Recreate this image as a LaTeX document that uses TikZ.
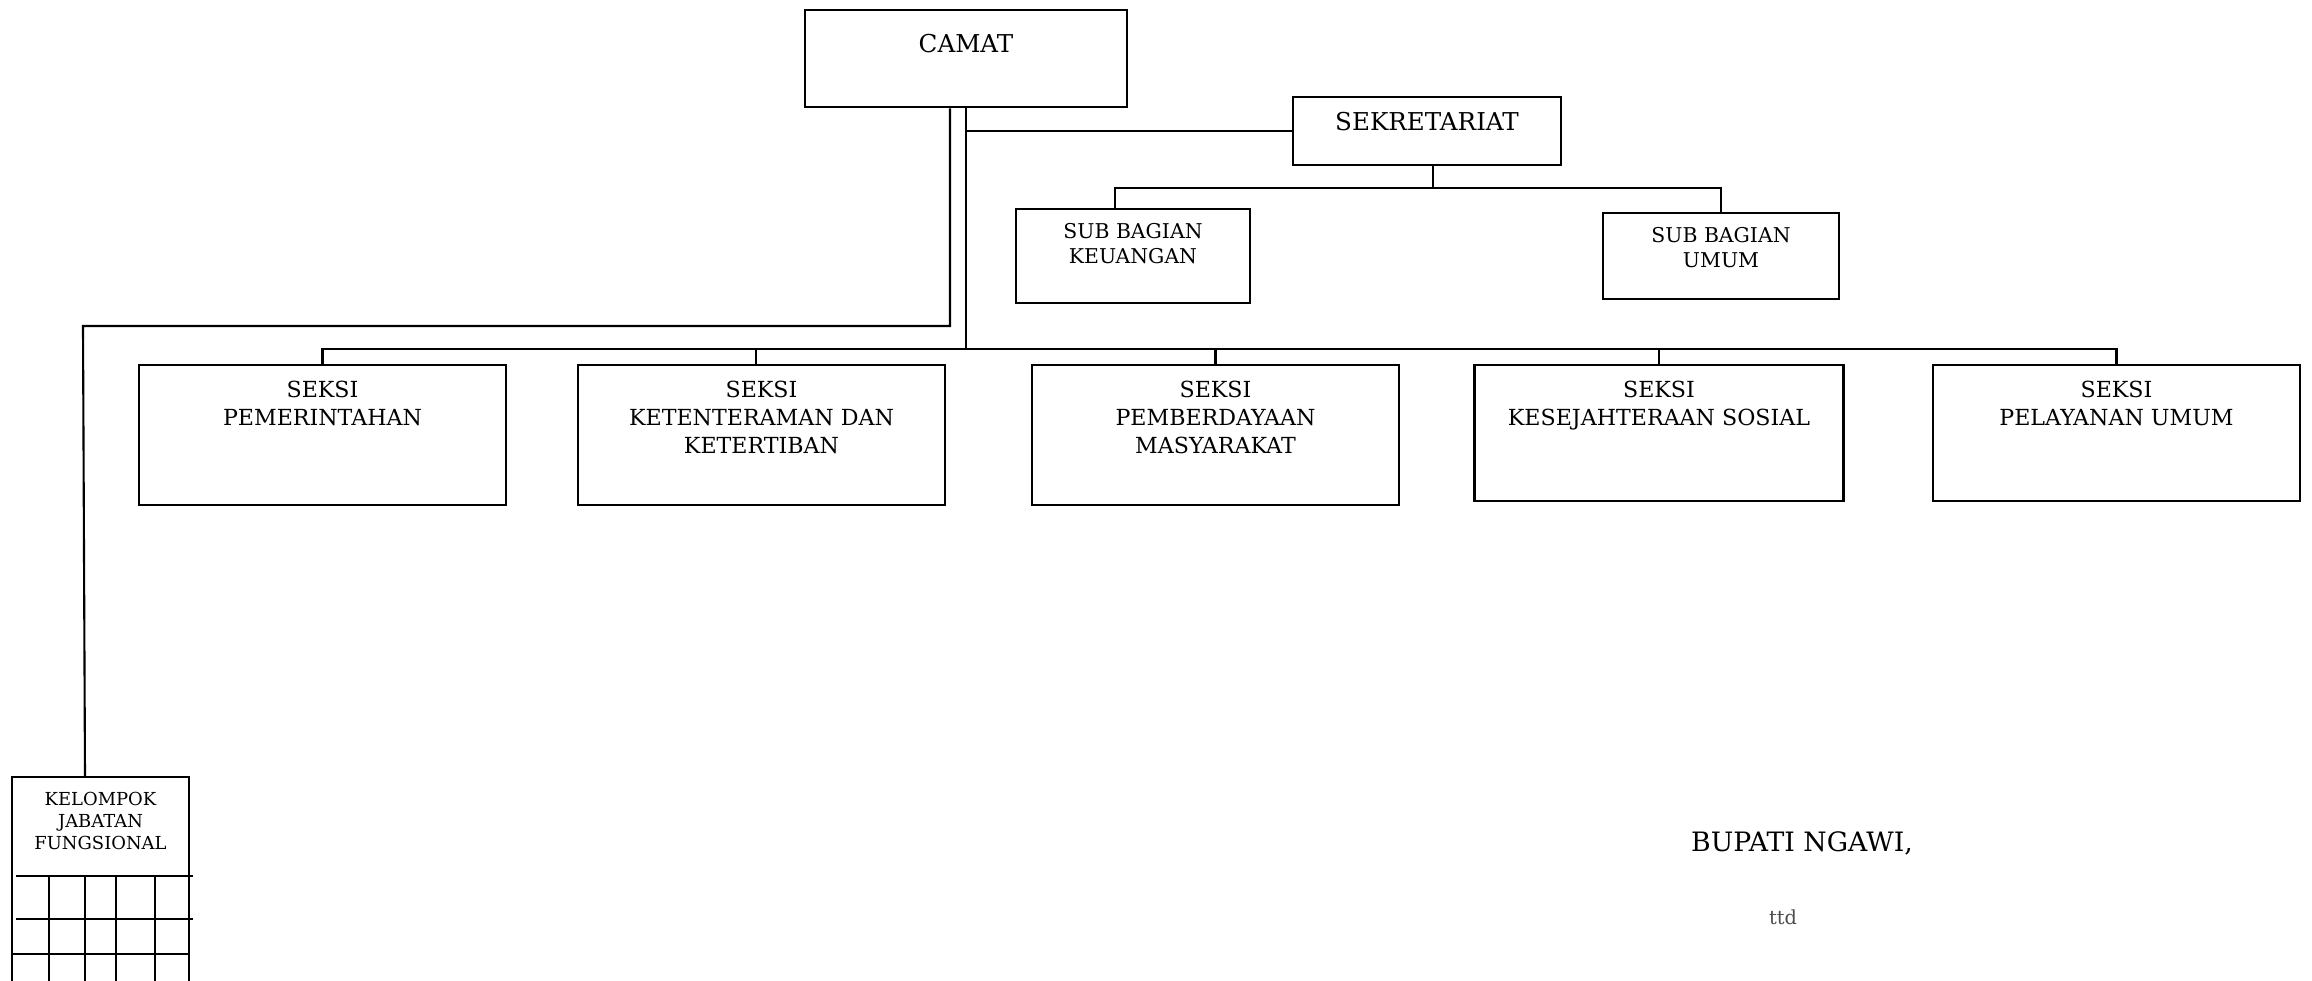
\documentclass[tikz,border=0pt]{standalone}
\usepackage{fontspec}
\setmainfont{DejaVu Serif}
\usepackage{tikz}
\usetikzlibrary{calc}

\tikzset{
  box/.style={draw, line width=0.7pt, inner sep=0pt, anchor=north},
  boxtext/.style={anchor=north, align=center, inner sep=0pt, yshift=-#1},
  link/.style={line width=0.6pt},
}
\newcommand{\bigtxt}{\fontsize{7}{9}\selectfont}
\newcommand{\midtxt}{\fontsize{6.3}{8}\selectfont}
\newcommand{\subtxt}{\fontsize{5.8}{7.1}\selectfont}
\newcommand{\smltxt}{\fontsize{5.1}{6.3}\selectfont}

\begin{document}
\begin{tikzpicture}[x=0.1mm, y=-0.1mm]
    \useasboundingbox (0,0) rectangle (2312,981);
    \clip (0,0) rectangle (2312,981);

    % 1. Camat dan sekretariat
    \node[box, minimum width=32.2mm, minimum height=9.7mm,
          label={[boxtext=2.5mm, font=\bigtxt]north:CAMAT}] (camat) at (966,9) {};
    \node[box, minimum width=26.8mm, minimum height=6.8mm,
          label={[boxtext=1.6mm, font=\bigtxt]north:SEKRETARIAT}] (sek) at (1427,96) {};

    % 2. Sub bagian
    \node[box, minimum width=23.4mm, minimum height=9.4mm,
          label={[boxtext=1.46mm, font=\subtxt]north:{SUB BAGIAN\\KEUANGAN}}] (keu) at (1133,208) {};
    \node[box, minimum width=23.6mm, minimum height=8.6mm,
          label={[boxtext=1.46mm, font=\subtxt]north:{SUB BAGIAN\\UMUM}}] (umum) at (1721,212) {};

    % 3. Seksi-seksi
    \node[box, minimum width=36.7mm, minimum height=14mm,
          label={[boxtext=1.6mm, font=\midtxt]north:{SEKSI\\PEMERINTAHAN}}] (pem) at (322.5,364) {};
    \node[box, minimum width=36.7mm, minimum height=14mm,
          label={[boxtext=1.6mm, font=\midtxt]north:{SEKSI\\KETENTERAMAN DAN\\KETERTIBAN}}] (ket) at (761.5,364) {};
    \node[box, minimum width=36.7mm, minimum height=14mm,
          label={[boxtext=1.6mm, font=\midtxt]north:{SEKSI\\PEMBERDAYAAN\\MASYARAKAT}}] (pmb) at (1215.5,364) {};
    \node[box, minimum width=36.9mm, minimum height=13.6mm,
          label={[boxtext=1.6mm, font=\midtxt]north:{SEKSI\\KESEJAHTERAAN SOSIAL}}] (kes) at (1659,364) {};
    \node[box, minimum width=36.7mm, minimum height=13.6mm,
          label={[boxtext=1.6mm, font=\midtxt]north:{SEKSI\\PELAYANAN UMUM}}] (pel) at (2116.5,364) {};

    % 4. Kelompok jabatan fungsional (tabel terpotong di bawah)
    \node[box, minimum width=17.7mm, minimum height=21.5mm,
          label={[boxtext=1.55mm, font=\smltxt]north:{KELOMPOK\\JABATAN\\FUNGSIONAL}}] (kjf) at (100.5,776) {};
    \draw[link] (16,876) -- (193,876) (16,919) -- (193,919) (12,954) -- (189,954);
    \foreach \gx in {49,85,116,155}
        \draw[link] (\gx,876) -- (\gx,995);

    % 5. Garis-garis hubungan
    \coordinate (bus) at (0,349);
    \coordinate (subbus) at (0,188);
    \coordinate (belok) at (83,326);
    \coordinate (keutop) at ([xshift=-1.8mm]keu.north);
    \coordinate (kettop) at ([xshift=-0.55mm]ket.north);
    \coordinate (sekbawah) at ([xshift=0.6mm]sek.south);
    \coordinate (camkiri) at ([xshift=-1.6mm]camat.south);
    \coordinate (kjftop) at ([xshift=-1.55mm]kjf.north);

    \draw[link] (camat.south) |- (sek.west);
    \draw[link] (camat.south) -- (camat.south |- bus);
    \draw[link] (pem.north) -- (pem.north |- bus) -- (pel.north |- bus) -- (pel.north);
    \draw[link] (kettop) -- (kettop |- bus);
    \foreach \s in {pmb, kes}
        \draw[link] (\s.north) -- (\s.north |- bus);
    \draw[link] (sekbawah) -- (sekbawah |- subbus);
    \draw[link] (keutop) -- (keutop |- subbus) -- (umum.north |- subbus) -- (umum.north);
    \draw[link] (camkiri) |- (belok) -- (kjftop);

    % 6. Tanda tangan
    \node[font=\fontsize{7.6}{9}\selectfont] (bupati) at (1802,843) {BUPATI NGAWI,};
    \node[font=\fontsize{5.5}{6.5}\selectfont, text=black!70] (ttd) at (1783,917) {ttd};
\end{tikzpicture}
\end{document}
